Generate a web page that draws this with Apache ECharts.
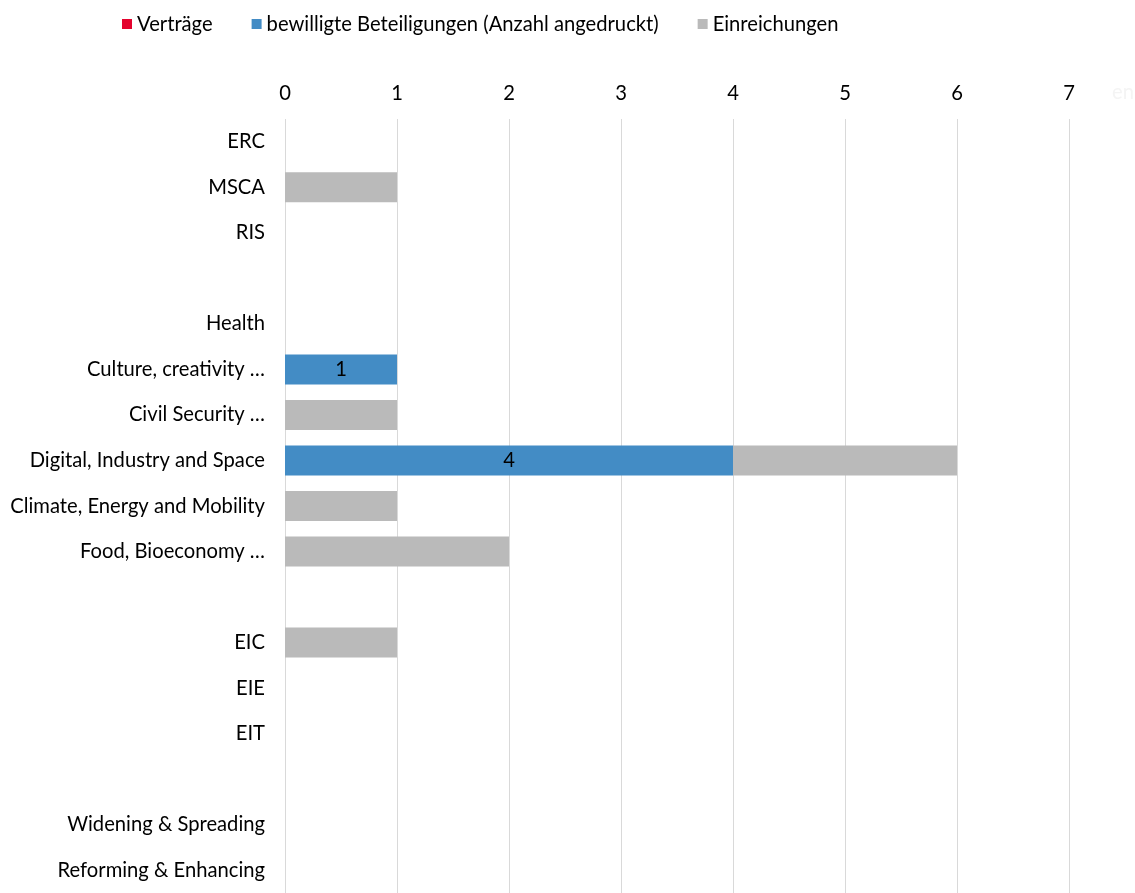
<!DOCTYPE html>
<html>
<head>
<meta charset="utf-8">
<script src="https://cdn.jsdelivr.net/npm/echarts@6/dist/echarts.min.js"></script>
<style>
html,body{margin:0;padding:0;background:#fff;}
#chart{width:1135px;height:893px;}
</style>
</head>
<body>
<div id="chart"></div>
<script>
const categories = ['ERC','MSCA','RIS',' ','Health','Culture, creativity …','Civil Security …','Digital, Industry and Space','Climate, Energy and Mobility','Food, Bioeconomy …','  ','EIC','EIE','EIT','   ','Widening & Spreading','Reforming & Enhancing'];
const vertraege =   [0,0,0,0,0,0,0,0,0,0,0,0,0,0,0,0,0];
const bewilligt =   [0,0,0,0,0,1,0,4,0,0,0,0,0,0,0,0,0];
const einreichung = [0,1,0,0,0,0,1,2,1,2,0,1,0,0,0,0,0];
const xTicks = [0,1,2,3,4,5,6,7];

const FONT = 'Lato, "Open Sans", sans-serif';
const FS = 20.2;
const chart = echarts.init(document.getElementById('chart'));
const nz = a => a.map(v => v === 0 ? null : v);
chart.setOption({
  animation:false,
  textStyle:{fontFamily:FONT},
  legend:{
    top:9, left:117,
    itemWidth:10, itemHeight:10, itemGap:39,
    icon:'rect',
    textStyle:{fontSize:FS,color:'#000',fontFamily:FONT},
    data:['Verträge','bewilligte Beteiligungen (Anzahl angedruckt)','Einreichungen']
  },
  grid:{left:285,right:66,top:119,bottom:-5,containLabel:false},
  xAxis:{
    type:'value', position:'top', min:xTicks[0], max:xTicks[xTicks.length-1], interval:1,
    axisLine:{show:false}, axisTick:{show:false},
    splitLine:{show:true,lineStyle:{color:'#d9d9d9',width:1}},
    axisLabel:{fontSize:FS,color:'#000',margin:16,fontFamily:FONT}
  },
  yAxis:{
    type:'category', data:categories, inverse:true,
    axisLine:{show:false}, axisTick:{show:false},
    axisLabel:{fontSize:FS,color:'#000',margin:20,fontFamily:FONT}
  },
  series:[
    {name:'Verträge',type:'bar',stack:'s',barWidth:30,data:nz(vertraege),itemStyle:{color:'#E4032E'}},
    {name:'bewilligte Beteiligungen (Anzahl angedruckt)',type:'bar',stack:'s',barWidth:30,data:nz(bewilligt),
      itemStyle:{color:'#438CC5'},
      label:{show:true,position:'inside',color:'#000',fontSize:FS,fontFamily:FONT}},
    {name:'Einreichungen',type:'bar',stack:'s',barWidth:30,data:nz(einreichung),itemStyle:{color:'#BABABA'}}
  ],
  graphic:[{type:'text',left:1112,top:82,style:{text:'en',fill:'#f4f4f4',font:FS+'px '+FONT}}]
});
</script>
</body>
</html>
